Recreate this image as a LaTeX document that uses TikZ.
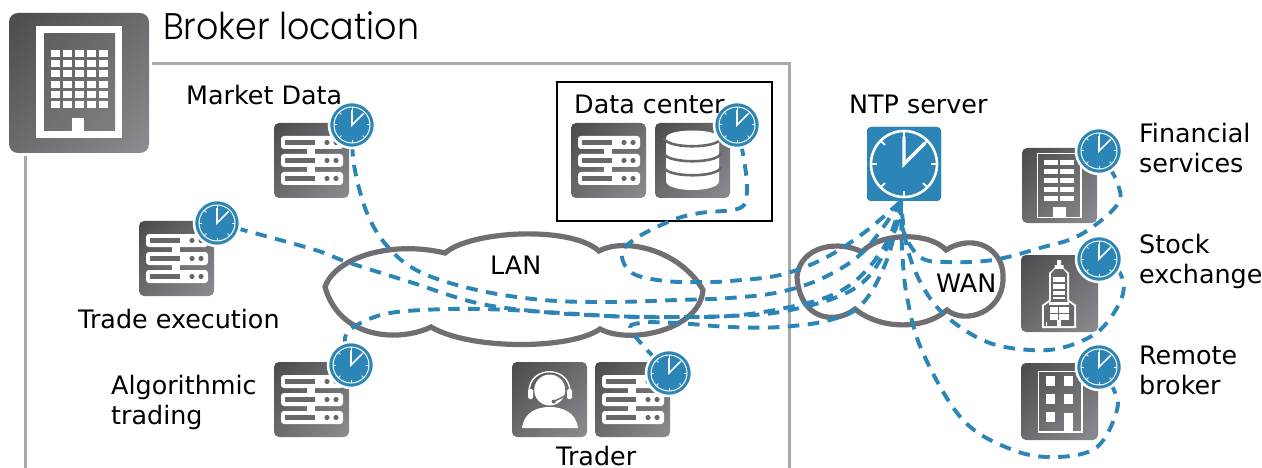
\documentclass[tikz,border=0pt]{standalone}
\usepackage{fontspec}
\setmainfont{DejaVu Sans}
\newfontfamily\headfont[UprightFont={* Light}]{Poppins}
\usetikzlibrary{calc}
\definecolor{tdark}{HTML}{454547}
\definecolor{tlight}{HTML}{929397}
\definecolor{tmid}{HTML}{68686C}
\definecolor{idark}{HTML}{58585A}
\definecolor{ilight}{HTML}{858589}
\definecolor{clk}{HTML}{2B85B7}
\definecolor{frameg}{HTML}{A7A9AC}
\definecolor{cloudg}{HTML}{6F6F73}
\pgfdeclareverticalshading{tileshade}{100bp}{color(0bp)=(tlight); color(8bp)=(tlight); color(92bp)=(tdark); color(100bp)=(tdark)}
\pgfdeclareverticalshading{innershade}{100bp}{color(0bp)=(ilight); color(100bp)=(idark)}
\pgfdeclarelayer{bg}
\pgfdeclarelayer{links}
\pgfsetlayers{bg,links,main}
\tikzset{
  every picture/.style={x=1pt,y=-1pt},
  lbl/.style={inner sep=0pt,anchor=base west,align=left,font=\fontsize{25.4}{30}\selectfont},
  link/.style={draw=clk,line width=3.9pt,dash pattern=on 11.5pt off 8.5pt},
  cloudshape/.style={draw=cloudg,line width=5.2pt,fill=white,line join=miter},
  clocknode/.style={circle,fill=clk,draw=white,line width=2.5pt,minimum size=46pt,inner sep=0pt},
  tileface/.style={rounded corners=5pt,shading=tileshade,shading angle=45},
  ticks/.pic={
    \draw[white,line width=1pt] (0,0) circle (18);
    \foreach \a in {0,45,...,315}{\draw[white,line width=1pt] (\a:18) -- (\a:15);}
    \draw[white,line width=1.6pt,line join=miter] (0,-15) -- (0,0) -- (11,-11);
  },
  bigticks/.pic={
    \draw[white,line width=2.6pt] (0,0) circle (33);
    \foreach \a in {0,45,...,315}{\draw[white,line width=2pt] (\a:33) -- (\a:27);}
    \draw[white,line width=3.4pt,line join=miter] (0,-27) -- (0,0) -- (21,-21);
  },
  servertile/.pic={
    \shade[tileface] (0,0) rectangle (75,75);
    \fill[white] (33,14) rectangle (41,60);
    \foreach \y in {13,31,49}{
      \fill[white,rounded corners=3pt] (7,\y) rectangle (69,\y+13);
      \fill[tmid] (11,\y+4) rectangle (41,\y+9);
      \fill[tmid] (53,\y+6.5) circle (2.6);
      \fill[tmid] (62,\y+6.5) circle (2.6);
    }
  },
  dbtile/.pic={
    \shade[tileface] (0,0) rectangle (75,75);
    \fill[white] (11,15) .. controls (11,5) and (64,5) .. (64,15) -- (64,58)
      .. controls (64,70) and (11,70) .. (11,58) -- cycle;
    \foreach \y in {15,30,44}{
      \draw[tmid,line width=2.6pt] (9,\y) .. controls (11,\y+11) and (64,\y+11) .. (66,\y);
    }
  },
  persontile/.pic={
    \shade[tileface] (0,0) rectangle (75,75);
    \fill[white] (37.7,28) circle (15.5);
    \fill[white] (10,66) .. controls (12,50) and (25,45) .. (37.7,45)
       .. controls (50,45) and (64,50) .. (66,66) -- cycle;
    \draw[white,line width=1.4pt] (17,30) .. controls (17,3) and (58,3) .. (58,30);
    \fill[white,rounded corners=1.5pt] (16,27) rectangle (21,37);
    \fill[white,rounded corners=1.5pt] (55,27) rectangle (60,37);
    \draw[tmid,line width=1.4pt] (41.7,39.5) -- (55,33);
    \fill[tmid] (41.7,39.5) circle (2);
  },
  fintile/.pic={
    \shade[tileface] (0,0) rectangle (75,75);
    \draw[white,line width=1.6pt] (15.5,5.5) rectangle (59,69.5);
    \foreach \y in {12.5,21.3,30,39.2,48.2}{
      \fill[white] (22,\y) rectangle (36,\y+5);
      \fill[white] (38,\y) rectangle (52,\y+5);
    }
    \fill[white] (31,59) rectangle (44,70);
  },
  stocktile/.pic={
    \shade[tileface] (0,0) rectangle (77,77);
    \fill[white] (36,5) -- (36,10) -- (33.5,10) -- (33.5,13) -- (28,18) -- (28,45) -- (21,50) -- (21,73)
       -- (55,73) -- (55,50) -- (48,45) -- (48,18) -- (42.5,13) -- (42.5,10) -- (40,10) -- (40,5) -- cycle;
    \fill[tmid] (34,14) -- (42,14) -- (46,18.5) -- (46,46) -- (53,51) -- (53,71) -- (23,71) -- (23,51) -- (30,46) -- (30,18.5) -- cycle;
    \fill[white] (32,22) rectangle (44,27);
    \fill[white] (32,29) rectangle (44,34);
    \fill[white] (32,36) rectangle (44,39.5);
    \fill[white] (32,41.5) rectangle (44,43.5);
    \fill[white] (28,47) rectangle (48,50);
    \fill[white] (29,52) rectangle (48,65);
    \fill[tmid] (37,52) rectangle (38,65);
    \fill[tmid] (29,57.5) rectangle (48,58.5);
    \fill[white] (36,65) rectangle (40,72);
    \fill[white] (25,66.5) rectangle (26,71);
  },
  remotetile/.pic={
    \shade[tileface] (0,0) rectangle (77,77);
    \draw[white,line width=1.8pt] (17.5,8.5) rectangle (61,69);
    \foreach \y in {13,31,49}{\fill[white] (25,\y) rectangle (34,\y+10);}
    \foreach \y in {13,31}{\fill[white] (43,\y) rectangle (52,\y+10);}
    \fill[white] (43,50) rectangle (52,69);
  },
  bigtile/.pic={
    \shade[tileface,rounded corners=9pt] (0,0) rectangle (140,140);
    \fill[white] (27,13) rectangle (113,125);
    \shade[shading=innershade,shading angle=45] (35,21) rectangle (106,118);
    \foreach \y in {37,47,57,68,78,88}{
      \foreach \x in {42,54,66,78,90}{\fill[white] (\x,\y) rectangle (\x+9,\y+7);}
    }
    \fill[white] (63,105) rectangle (75,119);
  },
}
\begin{document}
\begin{tikzpicture}
\useasboundingbox (0,0) rectangle (1262,468);
% clocks and NTP server
\node[clocknode] (cMarket) at (352,125) {};
\node[clocknode] (cTrade) at (217,223) {};
\node[clocknode] (cData) at (737,125) {};
\node[clocknode] (cAlgo) at (351,365) {};
\node[clocknode] (cTrader) at (669,373) {};
\node[clocknode] (cFin) at (1099,151) {};
\node[clocknode] (cStock) at (1099,259) {};
\node[clocknode] (cRemote) at (1099,367) {};
\node[fill=clk,rounded corners=4pt,minimum size=74pt,inner sep=0pt] (ntp) at (904,164) {};
\coordinate (port) at ([xshift=-3pt]ntp.south);
\begin{pgfonlayer}{bg}
  \draw[frameg,line width=3pt] (152,64) -- (789,64) -- (789,468);
  \draw[frameg,line width=3pt] (25,156) -- (25,468);
  \draw[black,line width=2.4pt] (557,82) rectangle (772,221);
  \draw[cloudshape] (325,287) .. controls (335,258) and (390,240) .. (445,253)
     .. controls (470,231) and (570,225) .. (599,251)
     .. controls (625,237) and (680,250) .. (703,290)
     .. controls (700,330) and (630,345) .. (600,329)
     .. controls (570,350) and (470,350) .. (431,327)
     .. controls (400,342) and (340,340) .. (325,287) -- cycle;
  \draw[cloudshape] (797,277) .. controls (800,245) and (840,240) .. (862,252)
     .. controls (880,232) and (930,232) .. (946,250)
     .. controls (975,232) and (1005,250) .. (1003,279)
     .. controls (1003,312) and (965,325) .. (947,310)
     .. controls (925,330) and (880,330) .. (855,309)
     .. controls (835,325) and (800,320) .. (797,277) -- cycle;
\end{pgfonlayer}
\begin{pgfonlayer}{links}
  \draw[link] plot[smooth,tension=.6] coordinates {(cTrade) (312,249) (347,262) (410,282) (477,303) (543,312) (610,316) (677,317) (730,316) (780,309) (830,296) (862,275) (888,240) (port)};
  \draw[link] plot[smooth,tension=.6] coordinates {(cMarket) (354,165) (367,213) (388,247) (420,272) (477,290) (543,300) (610,302) (677,300) (730,298) (780,292) (825,277) (865,250) (port)};
  \draw[link] plot[smooth,tension=.6] coordinates {(cData) (744,160) (747,190) (740,208) (700,213) (673,220) (638,237) (622,253) (632,273) (665,281) (703,282) (730,281) (780,275) (825,258) (865,232) (port)};
  \draw[link] plot[smooth,tension=.6] coordinates {(cAlgo) (345,338) (357,325) (390,313) (450,309) (510,310) (577,314) (630,317) (677,317) (730,316) (780,312) (837,297) (870,275) (895,230) (port)};
  \draw[link] plot[smooth,tension=.6] coordinates {(cTrader) (632,332) (640,323) (677,323) (730,327) (780,327) (830,320) (863,303) (888,257) (port)};
  \draw[link] plot[smooth,tension=.6] coordinates {(cFin) (1117,182) (1117,205) (1080,235) (1040,248) (993,260) (947,262) (920,257) (903,230) (port)};
  \draw[link] plot[smooth,tension=.6] coordinates {(cStock) (1120,273) (1122,297) (1100,330) (1065,347) (1030,350) (987,342) (947,317) (923,287) (907,247) (port)};
  \draw[link] plot[smooth,tension=.6] coordinates {(cRemote) (1113,388) (1117,410) (1097,447) (1057,457) (1013,450) (963,420) (923,353) (907,297) (902,247) (port)};
\end{pgfonlayer}
% tiles
\pic at (9,13) {bigtile};
\pic at (274,123) {servertile};
\pic at (139,221) {servertile};
\pic at (274,362) {servertile};
\pic at (571,123) {servertile};
\pic at (655,123) {dbtile};
\pic at (512,362) {persontile};
\pic at (595,362) {servertile};
\pic at (1022,148) {fintile};
\pic at (1021,255) {stocktile};
\pic at (1021,363) {remotetile};
% clock faces on top of the tiles
\foreach \c in {cMarket,cTrade,cData,cAlgo,cTrader,cFin,cStock,cRemote}{
  \node[clocknode] at (\c) {};
  \pic at (\c) {ticks};
}
\node[fill=clk,rounded corners=4pt,minimum size=74pt,inner sep=0pt] at (ntp) {};
\pic at (ntp) {bigticks};
% labels
\node[inner sep=0pt,anchor=base west,font=\fontsize{37}{42}\selectfont\headfont] (tBroker) at (163,40) {\scalebox{.94}[1]{Broker location}};
\node[lbl] (tMarket) at (186,105) {Market Data};
\node[lbl] (tData) at (574,114) {Data center};
\node[lbl] (tTrade) at (78,328) {Trade execution};
\node[lbl] (tAlgo1) at (111,394) {Algorithmic};
\node[lbl] (tAlgo2) at (111,424) {trading};
\node[lbl] (tTrader) at (556,465) {Trader};
\node[lbl] (tNtp) at (849,114) {NTP server};
\node[lbl] (tFin1) at (1139,143) {Financial};
\node[lbl] (tFin2) at (1139,173) {services};
\node[lbl] (tSt1) at (1139,253) {Stock};
\node[lbl] (tSt2) at (1139,283) {exchange};
\node[lbl] (tRe1) at (1139,364) {Remote};
\node[lbl] (tRe2) at (1139,394) {broker};
\node[lbl] (tLan) at (490,274) {LAN};
\node[lbl] (tWan) at (936,292) {WAN};
\end{tikzpicture}
\end{document}
